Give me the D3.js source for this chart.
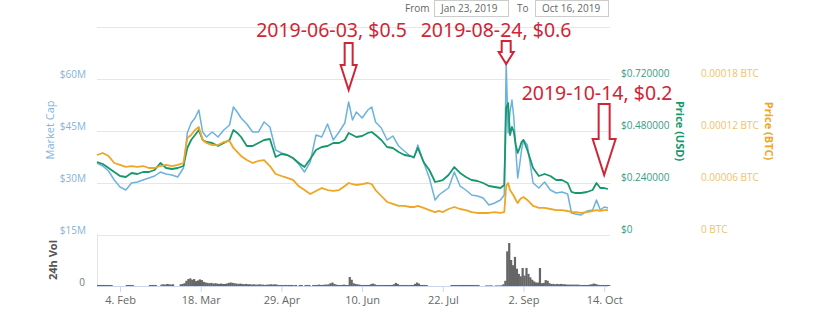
<!DOCTYPE html>
<html><head><meta charset="utf-8">
<script src="https://cdn.jsdelivr.net/npm/d3@7"></script>
<style>
body{margin:0;background:#fff}
svg{display:block;font-family:"Open Sans",sans-serif}
</style>
</head><body>
<svg id="c" width="832" height="325"></svg>
<script>
// ---------- DATA ----------
const priceDates = [
"2019-01-23","2019-01-26","2019-01-29","2019-02-01","2019-02-04","2019-02-07","2019-02-10","2019-02-13","2019-02-16","2019-02-19",
"2019-02-22","2019-02-25","2019-02-28","2019-03-03","2019-03-06","2019-03-09","2019-03-11","2019-03-13","2019-03-15","2019-03-17",
"2019-03-19","2019-03-21","2019-03-24","2019-03-27","2019-03-30","2019-04-02","2019-04-04","2019-04-06","2019-04-08","2019-04-11",
"2019-04-14","2019-04-17","2019-04-20","2019-04-23","2019-04-26","2019-04-29","2019-05-02","2019-05-05","2019-05-08","2019-05-11",
"2019-05-14","2019-05-17","2019-05-20","2019-05-23","2019-05-26","2019-05-29","2019-06-01","2019-06-03","2019-06-05","2019-06-07",
"2019-06-10","2019-06-13","2019-06-15","2019-06-17","2019-06-20","2019-06-23","2019-06-26","2019-06-29","2019-07-02","2019-07-05",
"2019-07-07","2019-07-09","2019-07-12","2019-07-15","2019-07-18","2019-07-20","2019-07-22","2019-07-25","2019-07-28","2019-07-31",
"2019-08-03","2019-08-06","2019-08-09","2019-08-12","2019-08-15","2019-08-18","2019-08-21","2019-08-23","2019-08-24","2019-08-25",
"2019-08-26","2019-08-27","2019-08-28","2019-08-29","2019-08-30","2019-08-31","2019-09-01","2019-09-02","2019-09-04","2019-09-07",
"2019-09-10","2019-09-13","2019-09-16","2019-09-19","2019-09-22","2019-09-25","2019-09-27","2019-09-29","2019-10-02","2019-10-05",
"2019-10-08","2019-10-10","2019-10-12","2019-10-14","2019-10-16"];

// Market cap, millions of USD
const marketCap = [
35.77,34.90,33.46,30.87,28.85,27.98,30.00,30.29,30.87,31.44,
32.02,33.17,32.60,32.31,31.73,34.33,44.42,47.31,48.75,51.06,
44.71,43.27,44.71,43.27,45.29,46.73,51.92,50.48,48.75,47.02,
44.71,44.71,47.60,46.15,39.52,38.65,38.08,37.21,35.48,33.17,
36.06,43.85,43.27,47.02,42.40,44.71,47.31,53.37,48.17,50.48,
48.75,51.06,51.92,47.60,45.87,42.40,43.56,40.67,39.23,37.79,
37.21,40.96,36.06,31.44,25.10,26.54,27.40,28.56,33.17,29.13,
27.98,26.54,26.25,25.67,23.65,24.23,25.10,26.54,64.90,44.42,
50.48,53.94,48.75,39.52,31.44,35.19,39.52,42.40,40.96,30.00,
28.56,30.29,27.98,27.12,27.40,26.83,21.35,21.06,20.77,21.92,
22.21,25.10,22.21,23.08,22.79];

// Price, USD
const priceUSD = [
0.3369,0.3277,0.3092,0.2908,0.2723,0.2677,0.2862,0.2815,0.2908,0.2908,
0.3000,0.3323,0.3092,0.3046,0.3092,0.3185,0.4015,0.4385,0.4615,0.4846,
0.4385,0.4292,0.4246,0.4108,0.4246,0.4385,0.4846,0.4708,0.4523,0.4108,
0.4108,0.4246,0.4385,0.4431,0.3600,0.3738,0.3692,0.3554,0.3323,0.3138,
0.3508,0.3923,0.4062,0.4108,0.4246,0.4246,0.4385,0.4708,0.4615,0.4523,
0.4569,0.4708,0.4754,0.4615,0.4385,0.4062,0.4015,0.3831,0.3692,0.3646,
0.3600,0.4015,0.3369,0.3000,0.2446,0.2492,0.2538,0.2769,0.3138,0.2862,
0.2677,0.2538,0.2492,0.2400,0.2262,0.2215,0.2169,0.2308,0.5862,0.6092,
0.4615,0.4985,0.4754,0.4154,0.3785,0.4015,0.4292,0.4385,0.3923,0.3092,
0.2723,0.2815,0.2723,0.2538,0.2538,0.2400,0.1985,0.1938,0.1938,0.1985,
0.2077,0.2400,0.2169,0.2169,0.2123];

// Price, BTC
const priceBTC = [
9.23e-5,9.46e-5,9.12e-5,8.31e-5,8.08e-5,7.85e-5,7.96e-5,7.85e-5,7.96e-5,7.73e-5,
7.73e-5,7.96e-5,8.08e-5,7.96e-5,8.08e-5,8.31e-5,11.19e-5,11.54e-5,12.12e-5,12.46e-5,
10.96e-5,10.62e-5,10.38e-5,10.38e-5,10.73e-5,10.85e-5,10.04e-5,9.58e-5,9.12e-5,8.65e-5,
8.31e-5,8.54e-5,8.65e-5,7.96e-5,7.04e-5,6.81e-5,6.58e-5,6.35e-5,5.65e-5,5.19e-5,
4.73e-5,5.08e-5,5.42e-5,5.19e-5,5.08e-5,5.19e-5,5.65e-5,6.00e-5,5.88e-5,5.77e-5,
5.88e-5,6.00e-5,5.88e-5,5.19e-5,4.50e-5,3.81e-5,3.58e-5,3.35e-5,3.35e-5,3.23e-5,
3.23e-5,3.35e-5,3.12e-5,2.88e-5,2.65e-5,2.77e-5,2.65e-5,3.00e-5,3.23e-5,3.00e-5,
2.88e-5,2.65e-5,2.54e-5,2.54e-5,2.54e-5,2.65e-5,2.54e-5,2.65e-5,5.65e-5,6.00e-5,
5.19e-5,4.85e-5,4.50e-5,4.04e-5,3.69e-5,4.04e-5,4.27e-5,4.38e-5,4.04e-5,3.35e-5,
3.12e-5,3.12e-5,3.00e-5,2.88e-5,2.88e-5,2.77e-5,2.65e-5,2.65e-5,2.54e-5,2.65e-5,
2.77e-5,2.88e-5,2.77e-5,2.88e-5,2.88e-5];

// 24h volume, millions of USD, one value per day from volumeStart (null = no data)
const volumeStart = "2019-01-23";
const volume = [
0.3,0.3,0.3,0.3,0.3,0.3,0.3,0.3,null,null,
null,null,null,null,null,0.3,0.3,0.3,0.3,null,
null,null,null,null,null,null,null,0.3,0.3,0.3,
0.3,null,null,0.4,0.5,0.4,0.6,0.5,0.4,0.5,
null,null,null,0.5,0.6,0.8,1.5,2.0,2.2,1.8,
2.0,1.4,1.6,1.9,1.7,1.2,1.0,0.9,0.8,0.9,
0.7,0.8,0.7,0.6,0.7,0.6,0.6,0.7,0.9,1.0,
0.9,0.8,0.7,0.6,0.7,0.6,0.5,0.6,0.5,0.5,
0.4,0.5,0.4,0.4,0.5,0.4,0.4,0.3,0.4,0.4,
0.5,0.4,0.5,0.4,0.3,0.3,0.3,0.3,0.3,0.3,
0.3,0.3,0.2,0.3,null,0.3,0.3,null,0.3,0.3,
0.3,null,0.3,0.3,0.3,0.4,0.3,0.3,0.4,0.4,
0.5,0.8,1.0,0.6,0.4,0.3,0.3,0.3,0.4,0.3,
0.3,2.6,1.8,0.8,0.6,0.5,0.4,0.3,0.3,0.3,
0.3,0.3,0.5,0.7,0.5,0.3,0.3,0.3,0.3,0.3,
0.3,0.3,0.3,0.3,0.5,0.9,0.6,0.3,0.3,0.3,
0.3,0.3,0.3,0.3,0.3,0.6,1.0,0.7,0.3,0.3,
0.3,0.3,null,null,null,null,null,null,null,null,
null,null,null,null,0.3,0.3,0.3,0.3,0.3,0.3,
0.3,0.3,0.3,0.3,0.3,0.3,0.3,0.3,0.3,null,
null,null,0.15,0.15,0.15,0.15,null,0.15,0.15,0.15,
0.2,0.5,1.5,10.0,12.4,7.5,6.0,8.4,5.0,3.5,
2.8,5.2,3.0,5.2,3.5,2.5,1.8,1.3,1.0,1.0,
5.2,0.8,0.9,1.7,1.5,0.8,0.6,0.6,0.5,0.6,
0.5,0.6,0.5,0.5,0.4,0.4,0.4,0.4,0.4,0.4,
0.4,0.3,0.3,0.3,0.3,0.3,0.4,0.5,0.7,0.6,
0.4,0.3,0.3,0.3,0.3,0.3,0.3];

const xTickDates = ["2019-02-04","2019-03-18","2019-04-29","2019-06-10","2019-07-22","2019-09-02","2019-10-14"];
const capTicks = [15, 30, 45, 60];
const capGrid = [15, 30, 45, 60, 75];
const usdTicks = [0, 0.24, 0.48, 0.72];
const btcTicks = [0, 0.00006, 0.00012, 0.00018];
const rangeFrom = "Jan 23, 2019";
const rangeTo = "Oct 16, 2019";

const annDates  = ["2019-06-03", "2019-08-24", "2019-10-14"];
const annLabels = ["2019-06-03, $0.5", "2019-08-24, $0.6", "2019-10-14, $0.2"];

// ---------- LAYOUT / STYLE ----------
const L = 97, R = 608, T = 27, B = 235, VT = 234, VB = 286;
const C = { cap:"#6cb2df", usd:"#17986c", btc:"#eea624", capText:"#7fb5da", usdText:"#3a9a82", btcText:"#efc26e",
            grid:"#e6e6e6", vol:"#666", red:"#cf2535", txt:"#666" };
const arrowGeom = [ {tipY:90, len:47, sw:4, hw:8, hl:25},
                    {tipY:64, len:23, sw:4.5, hw:7.5, hl:12},
                    {tipY:175, len:71, sw:5.5, hw:11.5, hl:36} ];
const labelPos = [ {dx:-92.5, y:37}, {dx:-85.5, y:37}, {dx:-82.5, y:100} ];

// ---------- SCALES ----------
const parse = d3.timeParse("%Y-%m-%d");
const svg = d3.select("#c");
const x = d3.scaleTime().domain([parse("2019-01-23"), parse("2019-10-16")]).range([L, R]);
const yCap = d3.scaleLinear().domain([15, 75]).range([B, T]);
const yUsd = d3.scaleLinear().domain([0, 0.96]).range([B, T]);
const yBtc = d3.scaleLinear().domain([0, 0.00024]).range([B, T]);
const yVol = d3.scaleLinear().domain([0, 15]).range([VB, VT]);

// ---------- GRID ----------
svg.append("g").selectAll("line").data(capGrid).join("line")
  .attr("x1", L).attr("x2", R + 2)
  .attr("y1", d => Math.round(yCap(d)) + 0.5).attr("y2", d => Math.round(yCap(d)) + 0.5)
  .attr("stroke", C.grid).attr("stroke-width", 1);

svg.append("line").attr("x1", L + 0.5).attr("x2", L + 0.5).attr("y1", VT).attr("y2", VB)
  .attr("stroke", C.grid);

// ---------- VOLUME ----------
const vStart = parse(volumeStart);
const volData = volume.map((v, i) => ({ d: d3.timeDay.offset(vStart, i), v }));
svg.append("g").selectAll("rect").data(volData.filter(e => e.v !== null)).join("rect")
  .attr("x", e => x(e.d))
  .attr("width", e => x(d3.timeDay.offset(e.d, 1)) - x(e.d) + 0.3)
  .attr("y", e => yVol(e.v))
  .attr("height", e => yVol(0) - yVol(e.v))
  .attr("fill", C.vol);

svg.append("line").attr("x1", L).attr("x2", R).attr("y1", VB + 0.5).attr("y2", VB + 0.5)
  .attr("stroke", "#ccd6eb");

// ---------- LINES ----------
const pts = priceDates.map(parse);
function drawLine(vals, yS, color, w) {
  svg.append("path").datum(vals)
    .attr("d", d3.line().x((d, i) => x(pts[i])).y(d => yS(d)))
    .attr("fill", "none").attr("stroke", color).attr("stroke-width", w)
    .attr("stroke-linejoin", "round");
}
drawLine(marketCap, yCap, C.cap, 1.5);
drawLine(priceUSD, yUsd, C.usd, 1.8);
drawLine(priceBTC, yBtc, C.btc, 1.8);

// ---------- AXES ----------
function styleAxis(g, color, size, dy) {
  g.select(".domain").remove();
  g.selectAll("line").remove();
  g.selectAll("text").attr("fill", color).style("font-size", size + "px")
    .style("font-family", "'Open Sans', sans-serif").attr("dy", dy);
}
svg.append("g").attr("transform", `translate(${L},0)`)
  .call(d3.axisLeft(yCap).tickValues(capTicks).tickSize(0).tickPadding(11).tickFormat(d => `$${d}M`))
  .call(g => styleAxis(g, C.capText, 10, "-0.15em"));

svg.append("g").attr("transform", `translate(${R},0)`)
  .call(d3.axisRight(yUsd).tickValues(usdTicks).tickSize(0).tickPadding(13)
    .tickFormat(d => d === 0 ? "$0" : "$" + d.toFixed(6)))
  .call(g => styleAxis(g, C.usdText, 10, "-0.3em"));

svg.append("g").attr("transform", `translate(${R},0)`)
  .call(d3.axisRight(yBtc).tickValues(btcTicks).tickSize(0).tickPadding(93)
    .tickFormat(d => d === 0 ? "0 BTC" : d.toFixed(5) + " BTC"))
  .call(g => styleAxis(g, C.btcText, 10, "-0.3em"));

svg.append("g").attr("transform", `translate(${L},0)`)
  .call(d3.axisLeft(yVol).tickValues([0]).tickSize(0).tickPadding(12).tickFormat(d => String(d)))
  .call(g => styleAxis(g, "#777", 10, "-0.1em"));

const xa = svg.append("g").attr("transform", `translate(0,${VB})`)
  .call(d3.axisBottom(x).tickValues(xTickDates.map(parse)).tickSize(6).tickPadding(4)
    .tickFormat(d3.timeFormat("%-d. %b")));
xa.select(".domain").remove();
xa.selectAll("line").attr("stroke", "#ccd6eb");
xa.selectAll("text").attr("fill", C.txt).style("font-size", "11px").style("font-family", "'Open Sans', sans-serif");

// ---------- AXIS TITLES ----------
function vtitle(txt, tx, ty, rot, color, weight, size) {
  svg.append("text").attr("transform", `translate(${tx},${ty}) rotate(${rot})`)
    .attr("text-anchor", "middle").attr("fill", color).style("font-size", size + "px")
    .style("font-weight", weight).text(txt);
}
vtitle("Market Cap", 54, 130, -90, C.capText, 400, 11);
vtitle("24h Vol", 57, 260, -90, "#555", 700, 11);
vtitle("Price (USD)", 676, 131, 90, C.usd, 700, 11);
vtitle("Price (BTC)", 765, 131, 90, C.btc, 700, 11);

// ---------- RANGE SELECTOR ----------
const rs = svg.append("g").style("font-size", "10px").attr("fill", "#666");
rs.append("text").attr("x", 405).attr("y", 11.5).text("From");
rs.append("rect").attr("x", 434.5).attr("y", 0.5).attr("width", 74).attr("height", 16)
  .attr("fill", "#fff").attr("stroke", "#ccc");
rs.append("text").attr("x", 441).attr("y", 11.5).text(rangeFrom);
rs.append("text").attr("x", 517).attr("y", 11.5).text("To");
rs.append("rect").attr("x", 535.5).attr("y", 0.5).attr("width", 73).attr("height", 16)
  .attr("fill", "#fff").attr("stroke", "#ccc");
rs.append("text").attr("x", 542).attr("y", 11.5).text(rangeTo);

// ---------- ANNOTATIONS ----------
annDates.forEach((ds, i) => {
  const tx = x(parse(ds)), g = arrowGeom[i], lp = labelPos[i];
  const ty = g.tipY, top = ty - g.len, hb = ty - g.hl;
  const p = [[tx - g.sw, top], [tx + g.sw, top], [tx + g.sw, hb], [tx + g.hw, hb], [tx, ty],
             [tx - g.hw, hb], [tx - g.sw, hb]];
  svg.append("path").attr("d", "M" + p.join("L") + "Z")
    .attr("fill", "none").attr("stroke", C.red).attr("stroke-width", 2).attr("stroke-linejoin", "miter");
  svg.append("text").attr("x", tx + lp.dx).attr("y", lp.y).attr("fill", C.red)
    .style("font-family", "'Noto Sans', sans-serif").style("font-size", "19.5px").text(annLabels[i]);
});
</script>
</body></html>
